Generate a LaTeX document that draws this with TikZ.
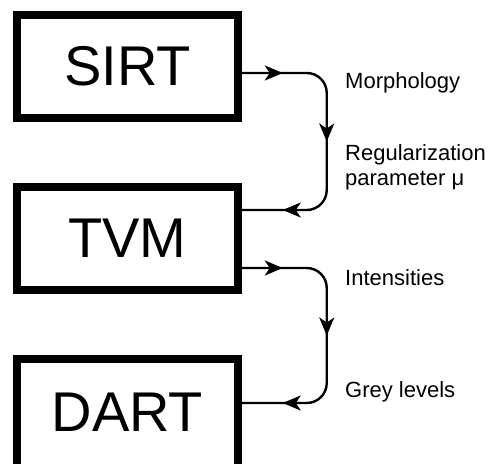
\documentclass[tikz,border=0pt]{standalone}
\usepackage{fontspec}
\setmainfont{Liberation Sans}
\usetikzlibrary{arrows.meta,positioning,decorations.markings}

\begin{document}
\begin{tikzpicture}[
        x=1pt, y=1pt,
        node distance=61.5pt,
        box/.style={
          draw,
          line width=7.5pt,
          minimum width=221pt,
          minimum height=103pt,
          font=\fontsize{56}{60}\selectfont
        },
        arrow/.style={
          line width=2.4pt,
          rounded corners=20pt,
          postaction={decorate},
          decoration={markings,
            mark=at position 41pt with {\arrow{Stealth[length=18pt,width=15pt,inset=5pt]}},
            mark=at position 0.5 with {\arrow{Stealth[length=18pt,width=15pt,inset=5pt]}},
            mark=at position -41pt with {\arrow{Stealth[length=18pt,width=15pt,inset=5pt]}}}
        },
        lbl/.style={
          anchor=base west,
          align=left,
          inner sep=0pt,
          font=\fontsize{22}{25}\selectfont
        }
      ]
      \useasboundingbox (0,0) rectangle (492,-463);
      \clip (0,0) rectangle (492,-463);

      \node[box] (sirt) at (127.5,-66.5) {SIRT};
      \node[box, below=of sirt] (tvm) {TVM};
      \node[box, below=of tvm, minimum height=120pt, text depth=14pt] (dart) {DART};

      \draw[arrow] ([yshift=-6.5pt]sirt.east) -| ([xshift=85pt,yshift=28.5pt]tvm.east) -- ([yshift=28.5pt]tvm.east);
      \draw[arrow] ([yshift=-29.5pt]tvm.east) -| ([xshift=85pt,yshift=16pt]dart.east) -- ([yshift=16pt]dart.east);

      \node[lbl] (morph) at (345,-88) {Morphology};
      \node[lbl] (reg) at (345,-185) {Regularization\\parameter μ};
      \node[lbl] (inten) at (345,-285) {Intensities};
      \node[lbl] (grey) at (345,-397) {Grey levels};

      \end{tikzpicture}
\end{document}
